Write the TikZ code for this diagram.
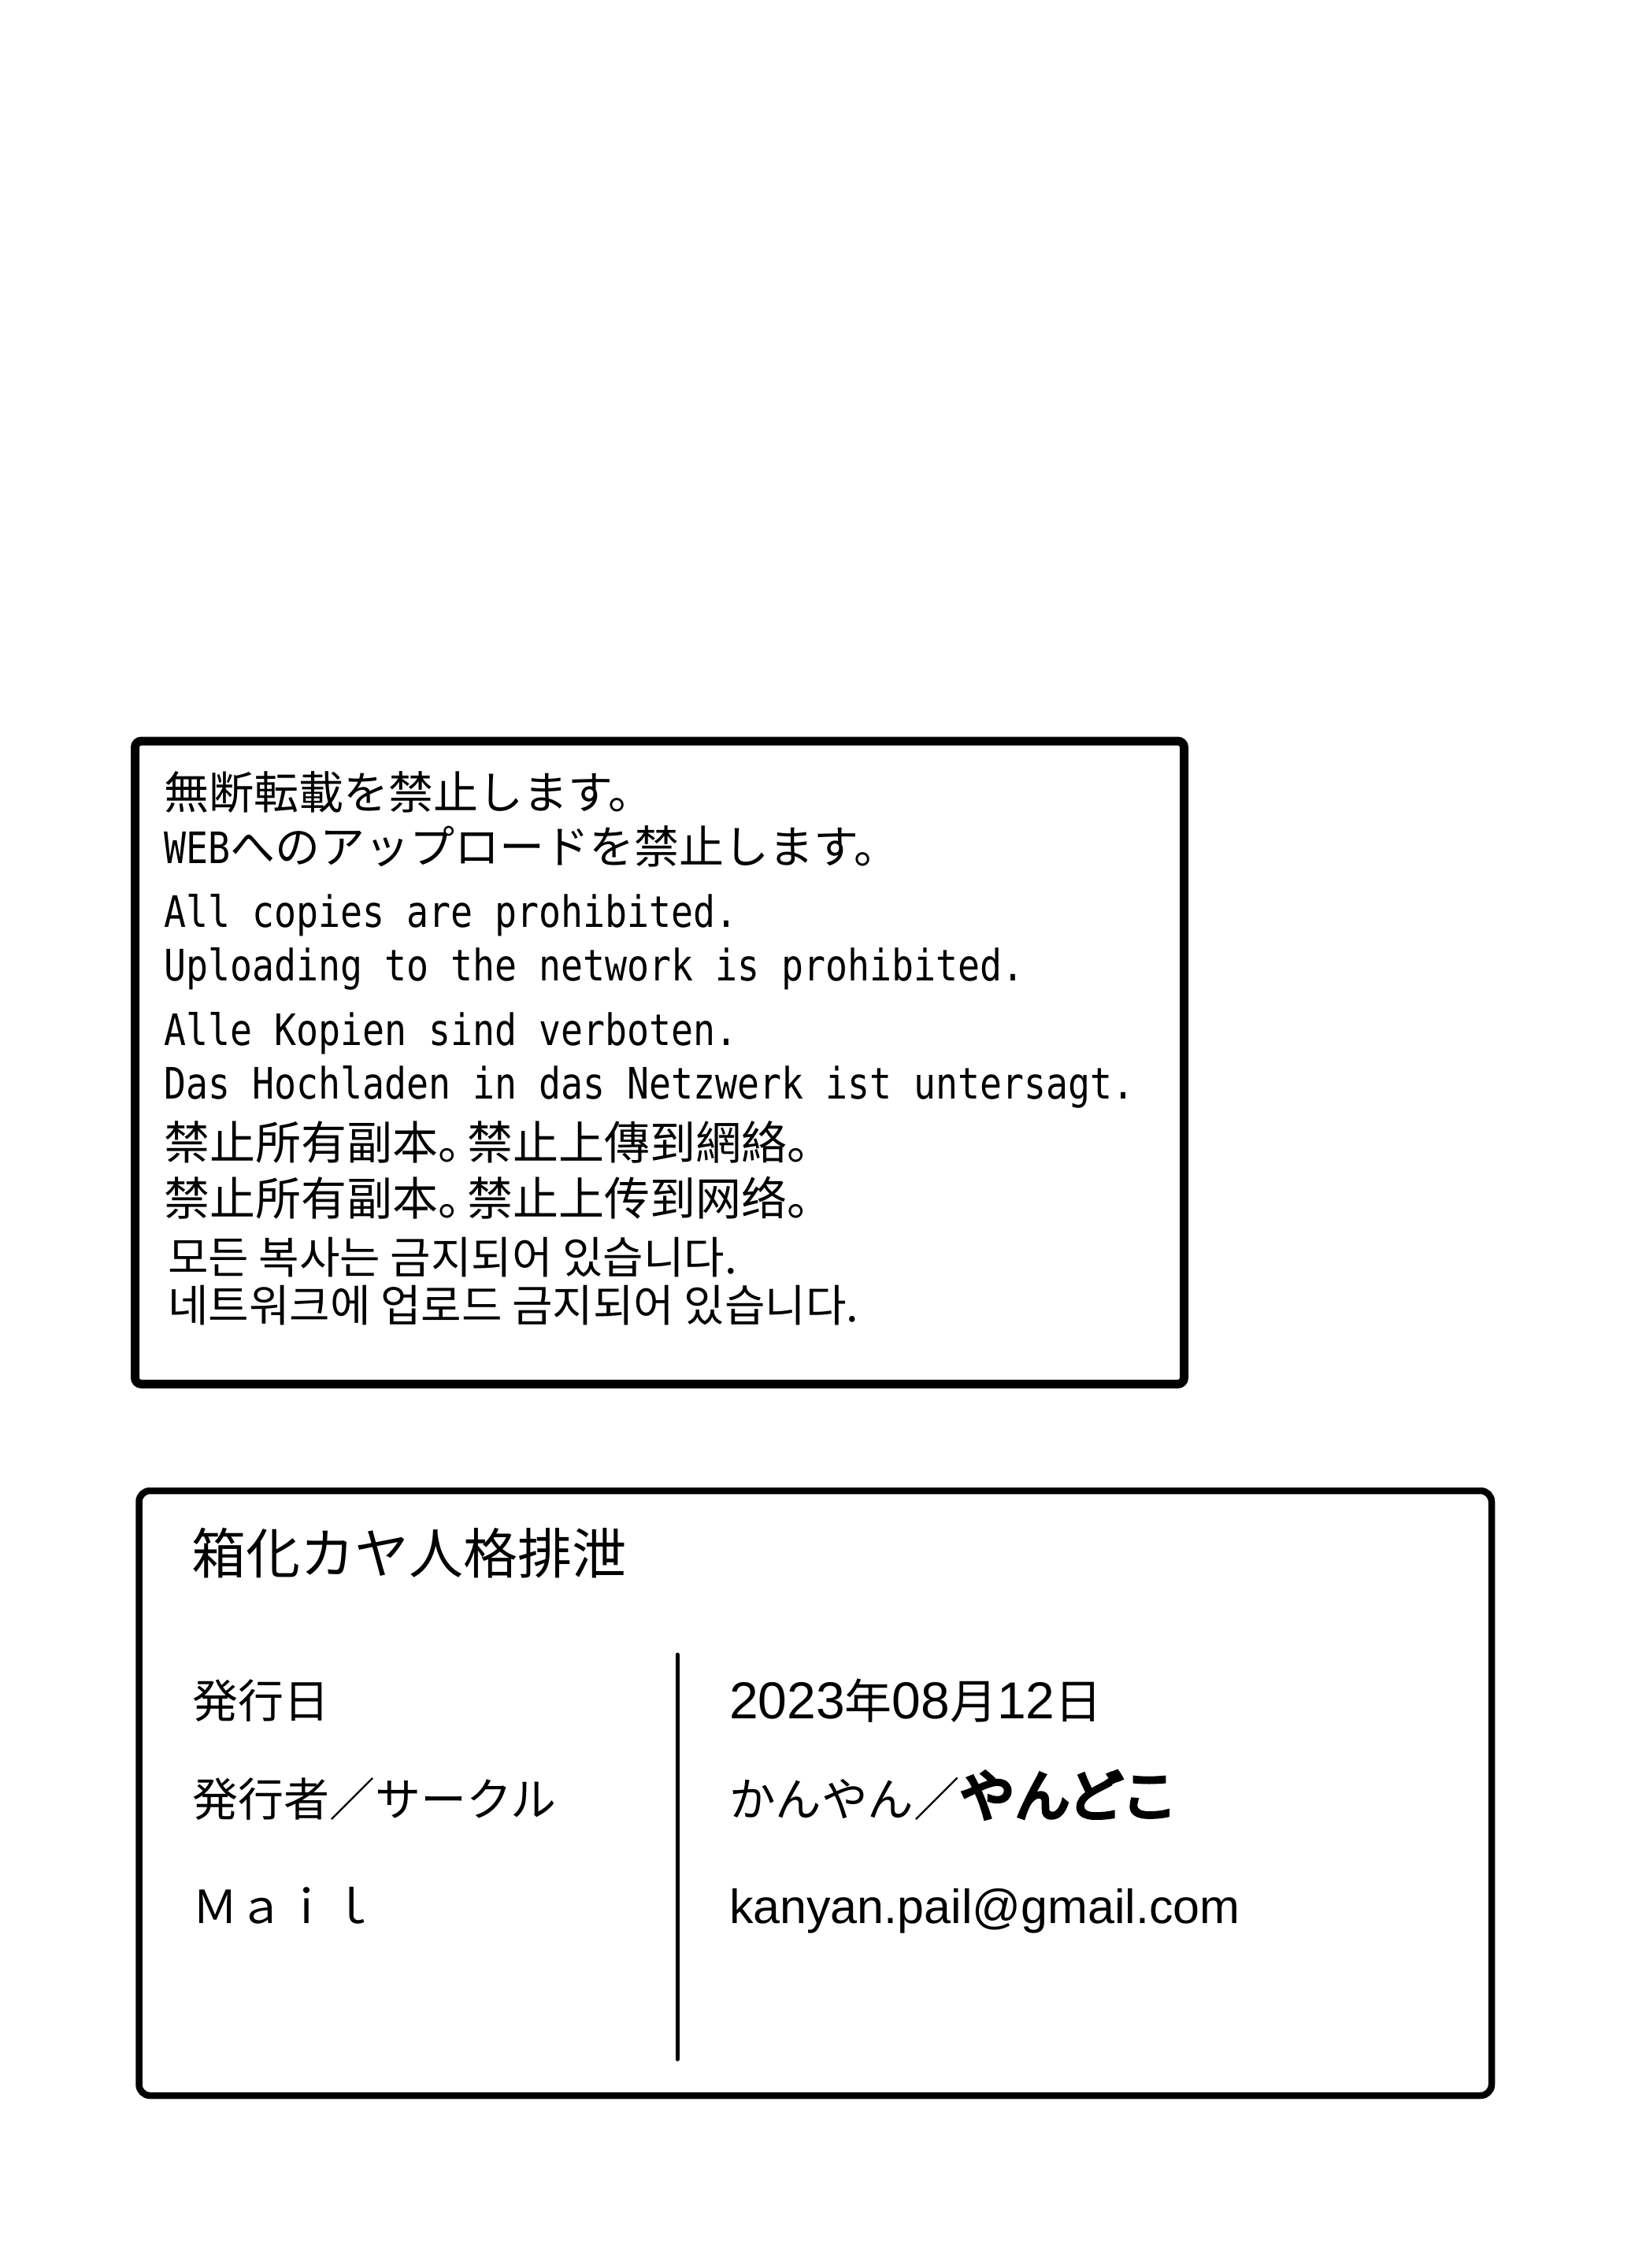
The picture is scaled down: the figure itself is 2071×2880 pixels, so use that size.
\documentclass[tikz,border=0pt]{standalone}
\usepackage{fontspec}
\newfontfamily\fjp{Noto Sans CJK JP}
\newfontfamily\ftc{Noto Sans CJK TC}
\newfontfamily\fsc{Noto Sans CJK SC}
\newfontfamily\fkr{Noto Sans CJK KR}
\newfontfamily\fmono[FakeStretch=0.846]{DejaVu Sans Mono}
\newfontfamily\flatin{Liberation Sans}
\newfontfamily\fheavy[FakeBold=6]{Noto Sans CJK JP}
\tikzset{
  txt/.style={anchor=base west, inner sep=0pt, outer sep=0pt},
  boxone/.style={line width=11pt, rounded corners=8pt},
  boxtwo/.style={line width=8.5pt, rounded corners=14pt},
  divider/.style={line width=5pt, line cap=round},
}
\begin{document}
\begin{tikzpicture}[x=1pt,y=-1pt]
\useasboundingbox[fill=white] (0,0) rectangle (2071,2880);
% boxes
\draw[boxone] (171.5,941) rectangle (1503.5,1757.5);
\draw[boxtwo] (176.5,1893) rectangle (1894,2661);
% notice text
\node[txt,font={\fjp\fontsize{57pt}{60pt}\selectfont}] (jp1) at (208,1027) {無断転載を禁止します。};
\node[txt,font={\fjp\fontsize{57pt}{60pt}\selectfont}] (jp2) at (208,1096) {{\fmono\fontsize{55pt}{60pt}\selectfont WEB}へのアップロードを禁止します。};
\node[txt,font={\fmono\fontsize{55pt}{60pt}\selectfont}] (en1) at (208,1177) {All copies are prohibited.};
\node[txt,font={\fmono\fontsize{55pt}{60pt}\selectfont}] (en2) at (208,1245) {Uploading to the network is prohibited.};
\node[txt,font={\fmono\fontsize{55pt}{60pt}\selectfont}] (de1) at (208,1327) {Alle Kopien sind verboten.};
\node[txt,font={\fmono\fontsize{55pt}{60pt}\selectfont}] (de2) at (208,1395) {Das Hochladen in das Netzwerk ist untersagt.};
\node[txt,font={\ftc\fontsize{58pt}{60pt}\selectfont}] (tc) at (208,1472) {禁止所有副本{\fjp 。}\kern-0.36em 禁止上傳到網絡{\fjp 。}};
\node[txt,font={\fsc\fontsize{58pt}{60pt}\selectfont}] (sc) at (208,1543) {禁止所有副本{\fjp 。}\kern-0.36em 禁止上传到网络{\fjp 。}};
\node[txt,font={\fkr\fontsize{56pt}{60pt}\selectfont}] (kr1) at (213,1617) {모든 복사는 금지되어 있습니다.};
\node[txt,font={\fkr\fontsize{56pt}{60pt}\selectfont}] (kr2) at (213,1678) {네트워크에 업로드 금지되어 있습니다.};
% colophon
\node[txt,font={\fjp\fontsize{69pt}{72pt}\selectfont}] (title) at (243,1998) {箱化カヤ人格排泄};
\node[txt,font={\fjp\fontsize{58pt}{62pt}\selectfont}] (date) at (244,2181) {発行日};
\node[txt,font={\fjp\fontsize{58pt}{62pt}\selectfont}] (pub) at (244,2306) {発行者／サークル};
\node[txt,font={\fjp\fontsize{58pt}{62pt}\selectfont}] (mail) at (244,2442) {Ｍａｉｌ};
\node[txt,font={\fjp\fontsize{60pt}{62pt}\selectfont}] (dateval) at (926,2182) {{\flatin\fontsize{66pt}{66pt}\selectfont 2023}年{\flatin\fontsize{66pt}{66pt}\selectfont 08}月{\flatin\fontsize{66pt}{66pt}\selectfont 12}日};
\node[txt,font={\fjp\fontsize{58.5pt}{62pt}\selectfont}] (pubval) at (926,2306) {かんやん／{\fheavy\fontsize{70pt}{70pt}\selectfont やんどこ}};
\node[txt,font={\flatin\fontsize{61pt}{62pt}\selectfont}] (mailval) at (926,2442) {kanyan.pail@gmail.com};
% divider
\coordinate (dtop) at (860,2101);
\coordinate (dbot) at (860,2615);
\draw[divider] (dtop) -- (dbot);
\end{tikzpicture}
\end{document}
